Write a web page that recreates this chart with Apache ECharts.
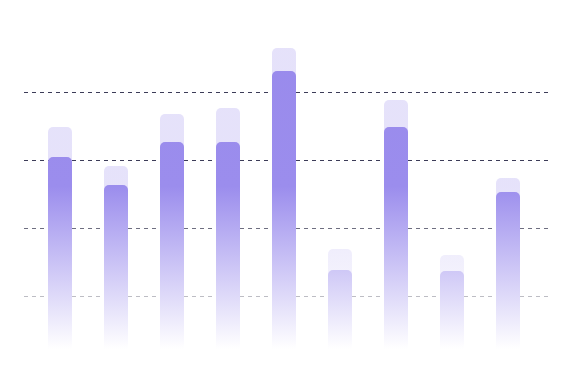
<!DOCTYPE html>
<html>
<head>
<meta charset="utf-8">
<script src="https://cdn.jsdelivr.net/npm/echarts@6/dist/echarts.min.js"></script>
<style>html,body{margin:0;padding:0;background:#fff;}#c{width:573px;height:390px;}</style>
</head>
<body>
<div id="c"></div>
<script>
var categories = ['1', '2', '3', '4', '5', '6', '7', '8', '9'];
var mainValues = [192, 164, 207, 207, 278, 79, 222, 78, 157];
var backValues = [222, 183, 235, 241, 301, 100, 249, 94, 171];
var gridTicks = [0, 1, 2, 3, 4, 5];

var chart = echarts.init(document.getElementById('c'), null, {renderer: 'canvas'});

function grad() {
  return new echarts.graphic.LinearGradient(0, 24, 0, 349, [
    {offset: 0, color: '#998aec'},
    {offset: 0.5, color: '#9b8ded'},
    {offset: 1, color: '#ffffff'}
  ], true);
}

chart.setOption({
  animation: false,
  grid: [
    {left: 24, right: 24, top: 24, bottom: 26},
    {left: 32, width: 504, top: 24, bottom: 41}
  ],
  xAxis: [
    {gridIndex: 0, type: 'category', data: categories, show: false},
    {gridIndex: 1, type: 'category', data: categories, show: false}
  ],
  yAxis: [
    {
      gridIndex: 0, type: 'value', min: gridTicks[0], max: gridTicks[gridTicks.length - 1], interval: 1,
      axisLine: {show: false}, axisTick: {show: false}, axisLabel: {show: false},
      splitLine: {show: true, lineStyle: {type: [4, 4], width: 1,
        color: ['rgba(0,0,0,0)', '#bdbdc4', '#6e6e80', '#3c3c58', '#3c3c58', 'rgba(0,0,0,0)']}}
    },
    {
      gridIndex: 1, type: 'value', min: 0, max: 325,
      axisLine: {show: false}, axisTick: {show: false}, axisLabel: {show: false},
      splitLine: {show: false}
    }
  ],
  series: [
    {
      type: 'bar', xAxisIndex: 1, yAxisIndex: 1, data: backValues,
      barWidth: 24, barGap: '-100%', z: 2,
      itemStyle: {color: grad(), opacity: 0.25, borderRadius: [5, 5, 0, 0]}
    },
    {
      type: 'bar', xAxisIndex: 1, yAxisIndex: 1, data: mainValues,
      barWidth: 24, barGap: '-100%', z: 3,
      itemStyle: {color: grad(), borderRadius: [5, 5, 0, 0]}
    }
  ]
});
</script>
</body>
</html>
